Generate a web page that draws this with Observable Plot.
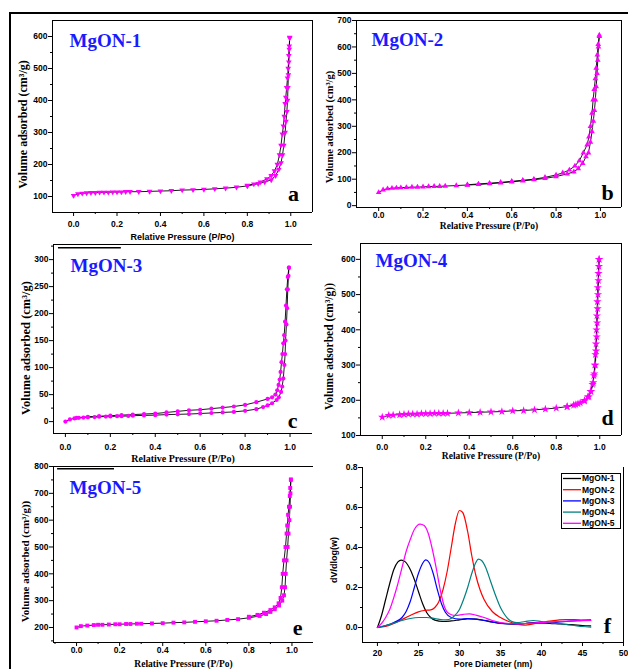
<!DOCTYPE html>
<html><head><meta charset="utf-8">
<script src="https://cdn.jsdelivr.net/npm/d3@7"></script>
<script src="https://cdn.jsdelivr.net/npm/@observablehq/plot@0.6"></script>
<style>
body{margin:0;background:#fff;}
#wrap{position:relative;width:628px;height:669px;overflow:hidden;background:#fff;}
.panel{position:absolute;}
#frame{position:absolute;left:9px;top:12px;width:700px;height:700px;border-top:2px solid #000;border-left:2px solid #000;}
</style></head>
<body><div id="wrap"><div id="frame"></div></div>
<script>
// ---------- DATA ----------
const pressureTicks = [0, 0.2, 0.4, 0.6, 0.8, 1.0];
const pressureMinor = [-0.1, 0.1, 0.3, 0.5, 0.7, 0.9, 1.1];

// MgON-1 (a)
const mgon1Ads = [[0,103],[0.02,108],[0.04,110],[0.06,111],[0.08,112],[0.10,112],[0.12,113],[0.14,113],[0.16,113],[0.18,114],[0.20,114],[0.22,114],[0.24,115],[0.26,115],[0.30,115],[0.35,116],[0.40,117],[0.45,118],[0.50,120],[0.55,121],[0.60,122],[0.65,124],[0.70,126],[0.75,129],[0.80,133],[0.85,140],[0.88,145],[0.91,152],[0.93,165],[0.945,185],[0.955,205],[0.962,230],[0.968,260],[0.974,300],[0.978,335],[0.982,365],[0.985,400],[0.987,440],[0.989,480],[0.991,520],[0.993,560],[0.995,595]];
const mgon1Des = [[0.995,597],[0.993,570],[0.991,540],[0.988,500],[0.985,470],[0.981,440],[0.977,410],[0.974,390],[0.970,350],[0.966,320],[0.961,295],[0.955,260],[0.948,230],[0.938,200],[0.925,180],[0.91,165],[0.89,155],[0.86,145],[0.83,139],[0.80,135]];

// MgON-2 (b)
const mgon2Ads = [[0,50],[0.02,60],[0.04,64],[0.06,66],[0.08,67],[0.10,68],[0.125,69],[0.15,70],[0.175,70],[0.20,71],[0.225,72],[0.25,73],[0.275,73],[0.30,74],[0.35,76],[0.40,78],[0.45,80],[0.50,83],[0.55,86],[0.60,90],[0.65,94],[0.70,98],[0.75,103],[0.80,110],[0.85,120],[0.88,128],[0.90,140],[0.92,160],[0.935,185],[0.946,200],[0.955,240],[0.962,280],[0.968,320],[0.973,360],[0.977,400],[0.981,450],[0.985,500],[0.988,550],[0.991,600],[0.995,640]];
const mgon2Des = [[0.995,645],[0.990,610],[0.986,570],[0.981,520],[0.977,480],[0.972,440],[0.967,400],[0.962,350],[0.955,300],[0.948,260],[0.940,230],[0.923,200],[0.905,170],[0.885,150],[0.86,135],[0.83,124],[0.80,116],[0.75,107],[0.70,100],[0.65,96],[0.60,92],[0.55,88],[0.50,85],[0.45,82],[0.40,79]];

// MgON-3 (c)
const mgon3Ads = [[0,0],[0.02,4],[0.04,6],[0.06,7],[0.08,7.5],[0.10,8],[0.13,8.5],[0.15,9],[0.18,9.3],[0.20,9.5],[0.23,10],[0.25,10],[0.28,10.5],[0.30,11],[0.35,11.5],[0.40,12],[0.45,13],[0.50,13.5],[0.55,14],[0.60,15],[0.65,16],[0.70,17],[0.75,18],[0.80,20],[0.85,23],[0.88,27],[0.90,30],[0.92,34],[0.94,40],[0.95,45],[0.96,55],[0.965,65],[0.970,80],[0.975,105],[0.978,125],[0.980,150],[0.984,180],[0.987,210],[0.990,245],[0.993,270],[0.995,285]];
const mgon3Des = [[0.995,285],[0.990,268],[0.986,245],[0.982,215],[0.978,185],[0.974,160],[0.970,145],[0.966,125],[0.962,110],[0.958,92],[0.954,78],[0.949,68],[0.943,58],[0.935,50],[0.92,45],[0.90,42],[0.85,36],[0.80,31],[0.75,28],[0.70,26],[0.65,24],[0.60,22],[0.55,21],[0.50,19],[0.45,17],[0.40,15],[0.35,14],[0.30,13],[0.25,12],[0.20,11],[0.15,10],[0.10,9],[0.05,7]];

// MgON-4 (d)
const mgon4Ads = [[0,152],[0.03,157],[0.05,158],[0.08,159],[0.10,160],[0.12,161],[0.14,161],[0.16,161],[0.18,162],[0.20,162],[0.22,162],[0.24,163],[0.26,163],[0.28,163],[0.30,163],[0.35,164],[0.40,165],[0.45,166],[0.50,167],[0.55,168],[0.60,170],[0.65,171],[0.70,173],[0.75,175],[0.80,178],[0.85,182],[0.88,186],[0.90,190],[0.93,198],[0.95,210],[0.96,225],[0.97,250],[0.975,275],[0.980,300],[0.983,340],[0.986,380],[0.988,420],[0.990,460],[0.992,500],[0.994,540],[0.996,580],[0.997,600]];
const mgon4Des = [[0.997,600],[0.994,560],[0.991,520],[0.989,480],[0.987,440],[0.985,400],[0.983,360],[0.980,330],[0.977,300],[0.973,270],[0.967,245],[0.958,225],[0.945,210],[0.93,200],[0.91,193],[0.89,188],[0.85,182]];

// MgON-5 (e)
const mgon5Ads = [[0,200],[0.02,205],[0.05,207],[0.08,209],[0.10,210],[0.12,210],[0.15,211],[0.18,212],[0.20,212],[0.23,213],[0.25,213],[0.28,214],[0.30,214],[0.35,215],[0.40,216],[0.45,218],[0.50,219],[0.55,221],[0.60,223],[0.65,225],[0.70,228],[0.75,231],[0.80,236],[0.85,243],[0.88,250],[0.90,258],[0.92,268],[0.94,282],[0.955,300],[0.963,320],[0.968,350],[0.971,400],[0.975,450],[0.980,500],[0.984,550],[0.988,600],[0.991,650],[0.993,700],[0.995,750]];
const mgon5Des = [[0.995,752],[0.992,720],[0.990,690],[0.986,650],[0.982,620],[0.978,580],[0.975,550],[0.970,500],[0.963,450],[0.957,400],[0.953,350],[0.947,310],[0.938,290],[0.92,275],[0.90,265],[0.87,255],[0.84,247],[0.80,240]];

// Pore size distribution (f)
const poreSeries = ["MgON-1","MgON-2","MgON-3","MgON-4","MgON-5"];
const poreColors = ["#000000","#ff0000","#0000ff","#008080","#ff00ff"];
const pore1 = [[20,0],[20.5,0.06],[21,0.14],[21.5,0.22],[22,0.29],[22.5,0.328],[22.9,0.337],[23.4,0.328],[24,0.29],[24.5,0.24],[25,0.18],[25.5,0.12],[26,0.075],[26.5,0.05],[27,0.037],[28,0.03],[29,0.033],[30,0.038],[31,0.043],[32,0.042],[33,0.036],[34,0.028],[35,0.022],[36,0.018],[37,0.017],[38,0.02],[39,0.025],[40,0.023],[41,0.02],[42,0.018],[43,0.016],[44,0.013],[45,0.01],[46,0.008]];
const pore2 = [[20,0],[21,0.005],[22,0.02],[23,0.04],[24,0.06],[25,0.078],[25.7,0.085],[26.5,0.088],[27,0.1],[27.5,0.13],[28,0.19],[28.5,0.28],[29,0.4],[29.5,0.52],[30,0.585],[30.4,0.575],[31,0.48],[31.5,0.36],[32,0.26],[32.5,0.19],[33,0.14],[34,0.08],[35,0.05],[36,0.03],[37,0.017],[38,0.012],[39,0.018],[40,0.025],[41,0.032],[42,0.037],[43,0.04],[44,0.04],[45,0.037],[46,0.035]];
const pore3 = [[20,0],[21,0.01],[22,0.025],[23,0.05],[23.5,0.08],[24,0.13],[24.5,0.2],[25,0.27],[25.5,0.32],[25.9,0.338],[26.3,0.325],[26.8,0.27],[27.3,0.19],[27.8,0.12],[28.3,0.075],[29,0.05],[30,0.042],[31,0.045],[32,0.042],[33,0.035],[34,0.027],[35,0.02],[36,0.018],[37,0.018],[38,0.02],[39,0.022],[40,0.023],[41,0.025],[42,0.027],[43,0.03],[44,0.033],[45,0.036],[46,0.038]];
const pore4 = [[20,0],[21,0.01],[22,0.022],[23,0.035],[24,0.045],[25,0.05],[26,0.05],[27,0.045],[28,0.038],[28.7,0.04],[29.3,0.055],[30,0.09],[30.5,0.14],[31,0.2],[31.5,0.27],[32,0.325],[32.3,0.342],[32.7,0.335],[33.2,0.3],[33.8,0.23],[34.5,0.15],[35,0.1],[35.5,0.065],[36,0.04],[36.5,0.028],[37,0.024],[38,0.03],[39,0.035],[40,0.03],[41,0.025],[42,0.02],[43,0.015],[44,0.01],[45,0.005],[46,0.002]];
const pore5 = [[20,0],[20.5,0.02],[21,0.05],[21.5,0.09],[22,0.15],[22.5,0.22],[23,0.3],[23.5,0.38],[24,0.44],[24.5,0.49],[25.2,0.517],[25.7,0.51],[26.2,0.47],[26.7,0.39],[27.2,0.29],[27.7,0.18],[28.2,0.1],[28.7,0.07],[29.5,0.06],[30.5,0.066],[31.2,0.068],[32,0.062],[33,0.05],[34,0.035],[35,0.025],[36,0.02],[37,0.018],[38,0.02],[39,0.022],[40,0.025],[41,0.028],[42,0.03],[43,0.032],[44,0.033],[45,0.034],[46,0.035]];
const poreData = [pore1, pore2, pore3, pore4, pore5];
const poreTicks = [20, 25, 30, 35, 40, 45, 50];
const poreMinor = [22.5, 27.5, 32.5, 37.5, 42.5, 47.5];
const psdTicks = [0, 0.2, 0.4, 0.6, 0.8];
const psdMinor = [0.1, 0.3, 0.5, 0.7];

// ---------- DRAWING ----------
const SANS = "Liberation Sans, Arial, sans-serif";
const NARROW = "Liberation Sans Narrow, Liberation Sans, Arial, sans-serif";
const SERIF = "Liberation Serif, Times New Roman, serif";
const wrap = document.getElementById("wrap");

function place(svg, L, T) {
  const d = document.createElement("div");
  d.className = "panel";
  d.style.left = L + "px"; d.style.top = T + "px";
  d.appendChild(svg);
  wrap.appendChild(d);
}

function axesMarks(c) {
  const xMinor = c.xMinor.filter(v => v > c.xd[0] && v < c.xd[1]);
  const yMinor = c.yMinor.filter(v => v > c.yd[0] && v < c.yd[1]);
  const tf = {fontSize: 8.5, fontWeight: "bold", fontFamily: SANS, label: null};
  const m = [
    Plot.axisX({ticks: c.xTicks, tickSize: 4, tickPadding: c.xPad, tickFormat: c.xFmt, ...tf}),
    Plot.axisX({ticks: xMinor, tickSize: 2, tickFormat: () => "", label: null}),
    Plot.axisY({ticks: c.yTicks, tickSize: 4, tickPadding: 1, tickFormat: c.yFmt, ...tf}),
    Plot.axisY({ticks: yMinor, tickSize: 2, tickFormat: () => "", label: null}),
    Plot.ruleY([c.yd[0]], {stroke: "#000", strokeWidth: 1}),
    Plot.ruleX([c.xd[0]], {stroke: "#000", strokeWidth: 1})
  ];
  if (c.top) m.push(Plot.ruleY([c.yd[1]], {stroke: "#000", strokeWidth: 1}));
  if (c.right) m.push(Plot.ruleX([c.xd[1]], {stroke: "#000", strokeWidth: 1}));
  if (c.stray) m.push(Plot.ruleY([c.stray.y], {x1: c.stray.x1, x2: c.stray.x2, stroke: "#000", strokeWidth: 1.5}));
  m.push(Plot.text([c.ylab], {text: d => d, frameAnchor: "left", rotate: -90, dx: c.ylabDx, dy: c.ylabDy,
    textAnchor: "middle", lineAnchor: "middle",
    fontSize: c.ylabSize, fontWeight: "bold", fontFamily: c.ylabFont, fill: "#000"}));
  m.push(Plot.text([c.xlab], {text: d => d, frameAnchor: "bottom", dy: c.xlabDy, lineAnchor: "middle", textAnchor: "middle",
    fontSize: c.xlabSize, fontWeight: "bold", fontFamily: c.xlabFont, fill: "#000"}));
  m.push(Plot.text([c.letter], {text: d => d, frameAnchor: "bottom-right", dx: c.letDx, dy: c.letDy,
    lineAnchor: "middle", textAnchor: "middle", fontSize: 22, fontWeight: "bold", fontFamily: SERIF, fill: "#000"}));
  return m;
}

function isoPanel(c) {
  const marks = [
    Plot.line(c.ads, {x: d => d[0], y: d => d[1], stroke: "#000", strokeWidth: 0.9}),
    Plot.line(c.des, {x: d => d[0], y: d => d[1], stroke: "#000", strokeWidth: 0.9}),
    Plot.dot(c.ads, {x: d => d[0], y: d => d[1], symbol: c.sym, r: c.r, fill: "#ff00ff", stroke: "none", rotate: c.rot}),
    Plot.dot(c.des, {x: d => d[0], y: d => d[1], symbol: c.sym, r: c.r, fill: "#ff00ff", stroke: "none", rotate: c.rot}),
    ...axesMarks(c),
    Plot.text([c.name], {text: d => d, frameAnchor: "top-left", dx: c.nameDx, dy: c.nameDy, textAnchor: "start",
      lineAnchor: "middle", fontSize: 19, fontWeight: "bold", fontFamily: SERIF, fill: "#1a1aff"})
  ];
  const svg = Plot.plot({
    width: c.W, height: c.H,
    marginLeft: c.mL, marginRight: c.mR, marginTop: c.mT, marginBottom: c.mB,
    style: {background: "transparent", overflow: "visible", color: "#000"},
    x: {domain: c.xd}, y: {domain: c.yd},
    marks
  });
  place(svg, c.L, c.T);
}

const fmt1 = d3.format(".1f");
const common = {xTicks: pressureTicks, xMinor: pressureMinor, xFmt: fmt1, yFmt: d3.format("d"),
  xlab: "Relative Pressure (P/Po)", ylabFont: SERIF};

// a
isoPanel({...common, ads: mgon1Ads, des: mgon1Des, L: 12, T: 14, W: 302, H: 236, mL: 40, mR: 2, mT: 6, mB: 38,
  xd: [-0.097, 1.1], yd: [50, 650], yTicks: [100,200,300,400,500,600], yMinor: [50,150,250,350,450,550,650],
  sym: "triangle", rot: 180, r: 2.1, name: "MgON-1", nameDx: 17, nameDy: 20, letter: "a", letDx: -19, letDy: -19,
  ylab: "Volume adsorbed (cm³/g)", ylabDx: -29, ylabDy: 8, ylabSize: 12, xlabFont: NARROW, xlabSize: 9, xlabDy: 25,
  xPad: 4, top: true, right: true});

// b
isoPanel({...common, ads: mgon2Ads, des: mgon2Des, L: 314, T: 14, W: 314, H: 226, mL: 42, mR: 7, mT: 6, mB: 33,
  xd: [-0.1, 1.095], yd: [-7, 700], yTicks: [0,100,200,300,400,500,600,700], yMinor: [50,150,250,350,450,550,650],
  sym: "triangle", rot: 0, r: 2.1, name: "MgON-2", nameDx: 15, nameDy: 19, letter: "b", letDx: -14, letDy: -15,
  ylab: "Volume adsorbed (cm³/g)", ylabDx: -27, ylabDy: 13, ylabSize: 10.5, xlabFont: SERIF, xlabSize: 9.5, xlabDy: 18,
  xPad: 0, top: true, right: true});

// c
isoPanel({...common, ads: mgon3Ads, des: mgon3Des, L: 12, T: 240, W: 302, H: 230, mL: 41, mR: 2, mT: 4, mB: 37,
  xd: [-0.053, 1.1], yd: [-22, 328], yTicks: [0,50,100,150,200,250,300], yMinor: [25,75,125,175,225,275,325],
  sym: "circle", rot: 0, r: 2.1, name: "MgON-3", nameDx: 17, nameDy: 21, letter: "c", letDx: -20, letDy: -13,
  ylab: "Volume adsorbed (cm³/g)", ylabDx: -28, ylabDy: 9, ylabSize: 12.5, xlabFont: SERIF, xlabSize: 10, xlabDy: 25,
  xPad: 6, top: true, right: false, stray: {y: 322, x1: -0.031, x2: 0.249}});

// d
isoPanel({...common, ads: mgon4Ads, des: mgon4Des, L: 314, T: 238, W: 314, H: 230, mL: 46, mR: 7, mT: 5, mB: 33,
  xd: [-0.1, 1.1], yd: [100, 645], yTicks: [100,200,300,400,500,600], yMinor: [150,250,350,450,550],
  sym: "star", rot: 0, r: 2.6, name: "MgON-4", nameDx: 15, nameDy: 17, letter: "d", letDx: -14, letDy: -18,
  ylab: "Volume adsorbed (cm³/g))", ylabDx: -31, ylabDy: 7, ylabSize: 11.5, xlabFont: SERIF, xlabSize: 9.5, xlabDy: 20,
  xPad: 4, top: true, right: true});

// e
isoPanel({...common, ads: mgon5Ads, des: mgon5Des, L: 12, T: 460, W: 302, H: 209, mL: 41, mR: 1, mT: 6, mB: 27,
  xd: [-0.107, 1.1], yd: [144, 800], yTicks: [200,300,400,500,600,700,800], yMinor: [150,250,350,450,550,650,750],
  sym: "square", rot: 0, r: 2.2, name: "MgON-5", nameDx: 16, nameDy: 21, letter: "e", letDx: -16, letDy: -15,
  ylab: "Volume adsorbed (cm³/g))", ylabDx: -28, ylabDy: 7, ylabSize: 11, xlabFont: SERIF, xlabSize: 9.5, xlabDy: 21,
  xPad: 0, top: true, right: false, stray: {y: 792, x1: -0.088, x2: 0.176}});

// f
(function () {
  const c = {xTicks: poreTicks, xMinor: poreMinor, xFmt: d3.format("d"), yFmt: fmt1,
    xd: [18.18, 50], yd: [-0.075, 0.8], yTicks: psdTicks, yMinor: psdMinor,
    xlab: "Pore Diameter (nm)", xlabFont: SANS, xlabSize: 8.5, xlabDy: 22,
    ylab: "dV/dlog(w)", ylabFont: SANS, ylabSize: 9, ylabDx: -28, ylabDy: 5,
    letter: "f", letDx: -16, letDy: -17, xPad: 3, top: false, right: true};
  const lines = poreData.map((s, i) => Plot.line(s, {x: d => d[0], y: d => d[1], stroke: poreColors[i], strokeWidth: 1.2, curve: "monotone-x"}));
  const svg = Plot.plot({
    width: 314, height: 209, marginLeft: 48, marginRight: 5, marginTop: 7, marginBottom: 27,
    style: {background: "transparent", overflow: "visible", color: "#000"},
    x: {domain: c.xd}, y: {domain: c.yd},
    marks: [...lines, ...axesMarks(c)]
  });
  place(svg, 314, 460);

  // legend
  const leg = d3.create("svg").attr("width", 61).attr("height", 57)
    .style("position", "absolute").style("left", "561px").style("top", "473px");
  leg.append("rect").attr("x", 0.5).attr("y", 0.5).attr("width", 59).attr("height", 55)
    .attr("fill", "#fff").attr("stroke", "#000").attr("stroke-width", 1);
  poreSeries.forEach((n, i) => {
    const y = 5.5 + i * 11.2;
    leg.append("line").attr("x1", 2).attr("x2", 20).attr("y1", y).attr("y2", y)
      .attr("stroke", poreColors[i]).attr("stroke-width", 1.3);
    leg.append("text").attr("x", 21).attr("y", y).attr("dy", "0.35em")
      .attr("font-family", SANS).attr("font-weight", "bold").attr("font-size", 8.5).attr("fill", "#000").text(n);
  });
  wrap.appendChild(leg.node());
})();
</script>
</body></html>
